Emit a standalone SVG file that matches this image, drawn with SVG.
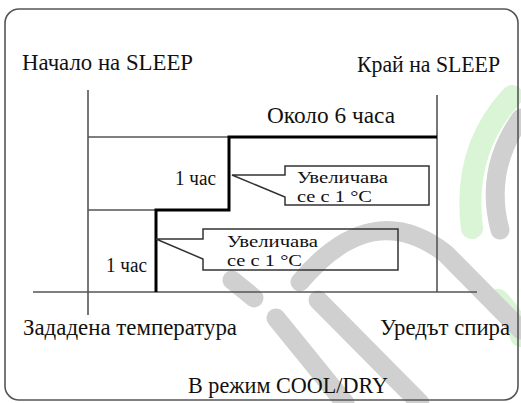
<svg xmlns="http://www.w3.org/2000/svg" width="521" height="403" viewBox="0 0 521 403">
<style>
.thin{fill:none;stroke:#555;stroke-width:1.6;}
.thick{fill:none;stroke:#000;stroke-width:3;}
.call{fill:none;stroke:#333;stroke-width:1.5;}
.wg{fill:none;stroke:#d0d0d0;stroke-width:19;stroke-linecap:round;}
.wgr{fill:none;stroke:#daf4d6;stroke-width:22;stroke-linecap:round;}
text{font-family:"Times New Roman","Liberation Serif","DejaVu Serif",serif;fill:#111;}
</style>
<rect x="0" y="0" width="521" height="403" fill="#fff"/>
<g id="watermark">
<path class="wgr" d="M512 96 Q462 150 472 228"/>
<path class="wgr" d="M498 300 Q515 318 521 336"/>
<path class="wg" d="M521 118 Q484 170 500 230"/>
<path class="wg" d="M300 282 Q372 196 446 254 L521 330"/>
<path class="wg" d="M232 280 L254 298"/>
<path class="wg" d="M276 318 L345 403"/>
<path class="wg" d="M318 300 L420 403"/>
</g>
<rect id="frame" x="5" y="9" width="513" height="391" rx="14" fill="none" stroke="#555" stroke-width="1.6"/>
<g id="connectors">
<line class="thin" x1="88" y1="90" x2="88" y2="315"/>
<line class="thin" x1="437" y1="95" x2="437" y2="292"/>
<line class="thin" x1="33" y1="292" x2="477" y2="292"/>
<line class="thin" x1="88" y1="137" x2="229" y2="137"/>
<line class="thin" x1="88" y1="210" x2="156" y2="210"/>
<path class="thick" d="M437 137 H229 V210 H156 V292"/>
</g>
<g id="start" font-size="22.5"><text x="22" y="70" textLength="171" lengthAdjust="spacingAndGlyphs">Начало на SLEEP</text></g>
<g id="end" font-size="22.5"><text x="357" y="72" textLength="143" lengthAdjust="spacingAndGlyphs">Край на SLEEP</text></g>
<g id="duration" font-size="22.5"><text x="267" y="123" textLength="128" lengthAdjust="spacingAndGlyphs">Около 6 часа</text></g>
<g id="hour1" font-size="20"><text x="175" y="185" textLength="41" lengthAdjust="spacingAndGlyphs">1 час</text></g>
<g id="hour2" font-size="20"><text x="106" y="272" textLength="41" lengthAdjust="spacingAndGlyphs">1 час</text></g>
<g id="callout1" font-size="17">
<polygon class="call" points="232,175 285,175 285,166 429,166 429,205 285,205 285,197"/>
<text x="297" y="183" textLength="91" lengthAdjust="spacingAndGlyphs">Увеличава</text>
<text x="297" y="202" textLength="75" lengthAdjust="spacingAndGlyphs">се с 1 °C</text>
</g>
<g id="callout2" font-size="17">
<polygon class="call" points="156,239 203,239 203,229 398,229 398,270 203,270 203,259"/>
<text x="227" y="247" textLength="91" lengthAdjust="spacingAndGlyphs">Увеличава</text>
<text x="227" y="266" textLength="75" lengthAdjust="spacingAndGlyphs">се с 1 °C</text>
</g>
<g id="settemp" font-size="22.5"><text x="23" y="335" textLength="214" lengthAdjust="spacingAndGlyphs">Зададена температура</text></g>
<g id="stop" font-size="22.5"><text x="380" y="335" textLength="130" lengthAdjust="spacingAndGlyphs">Уредът спира</text></g>
<g id="mode" font-size="22.5"><text x="188" y="393" textLength="200" lengthAdjust="spacingAndGlyphs">В режим COOL/DRY</text></g>
</svg>
